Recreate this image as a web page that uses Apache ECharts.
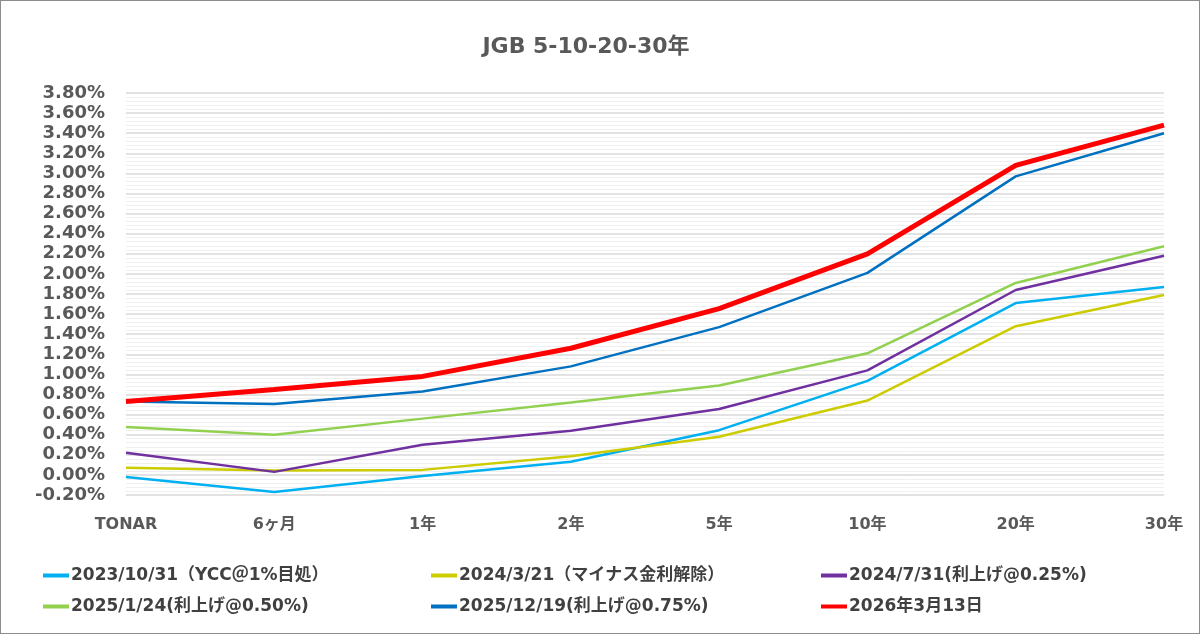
<!DOCTYPE html>
<html>
<head>
<meta charset="utf-8">
<title>JGB 5-10-20-30年</title>
<script src="https://cdn.jsdelivr.net/npm/echarts@6/dist/echarts.min.js"></script>
<style>
    html, body { margin: 0; padding: 0; background: #fff; }
    #chart { width: 1198px; height: 632px; border: 1px solid #8c8c8c; }
</style>
</head>
<body>
<div id="chart"></div>
<script>
// 年限
var tenors = ['TONAR', '6ヶ月', '1年', '2年', '5年', '10年', '20年', '30年'];

// 各日付の利回り (%)
var y20231031 = [-0.02, -0.17, -0.01, 0.13, 0.445, 0.935, 1.71, 1.87];
var y20240321 = [0.07, 0.045, 0.05, 0.185, 0.38, 0.74, 1.48, 1.79];
var y20240731 = [0.22, 0.03, 0.30, 0.44, 0.655, 1.04, 1.84, 2.18];
var y20250124 = [0.477, 0.40, 0.56, 0.72, 0.89, 1.21, 1.91, 2.275];
var y20251219 = [0.73, 0.705, 0.83, 1.08, 1.47, 2.01, 2.97, 3.40];
var y20260313 = [0.73, 0.85, 0.98, 1.26, 1.655, 2.20, 3.08, 3.48];

var names = [
    '2023/10/31（YCC＠1%目処）',
    '2024/3/21（マイナス金利解除）',
    '2024/7/31(利上げ@0.25%)',
    '2025/1/24(利上げ@0.50%)',
    '2025/12/19(利上げ@0.75%)',
    '2026年3月13日'
];
var colors = ['#00b0f0', '#cccc00', '#7030a0', '#92d050', '#0070c0', '#ff0000'];
var widths = [2.5, 2.5, 2.5, 2.5, 2.5, 5];
var values = [y20231031, y20240321, y20240731, y20250124, y20251219, y20260313];

var FONT = '"DejaVu Sans", "Noto Sans CJK JP", sans-serif';

var myChart = echarts.init(document.getElementById('chart'));

var series = values.map(function (v, i) {
    return {
        name: names[i],
        type: 'line',
        data: v,
        symbol: 'none',
        color: colors[i],
        lineStyle: { width: widths[i], color: colors[i] }
    };
});

function legendCol(left, idx) {
    return {
        orient: 'vertical',
        left: left,
        top: 561,
        itemGap: 14,
        itemWidth: 26,
        itemHeight: 4,
        icon: 'rect',
        data: idx.map(function (i) { return names[i]; }),
        textStyle: { fontFamily: FONT, fontSize: 17, fontWeight: 'bold', color: '#404040', padding: [0, 0, 0, -3] }
    };
}

var option = {
    animation: false,
    title: {
        text: 'JGB 5-10-20-30年',
        left: 580,
        textAlign: 'center',
        top: 30,
        textStyle: { fontFamily: FONT, fontSize: 22, fontWeight: 'bold', color: '#595959' }
    },
    legend: [
        legendCol(37, [0, 3]),
        legendCol(425, [1, 4]),
        legendCol(815, [2, 5])
    ],
    grid: { left: 125, right: 35, top: 92, bottom: 138, containLabel: false },
    xAxis: {
        type: 'category',
        data: tenors,
        boundaryGap: false,
        axisLine: { show: false },
        axisTick: { show: false },
        axisLabel: {
            margin: 22,
            fontFamily: FONT,
            fontSize: 16,
            fontWeight: 'bold',
            color: '#595959'
        }
    },
    yAxis: {
        type: 'value',
        min: -0.2,
        max: 3.8,
        interval: 0.2,
        axisLine: { show: false },
        axisTick: { show: false },
        axisLabel: {
            margin: 21,
            fontFamily: FONT,
            fontSize: 18,
            fontWeight: 'bold',
            color: '#595959',
            formatter: function (v) { return v.toFixed(2) + '%'; }
        },
        splitLine: { lineStyle: { color: '#d9d9d9', width: 1.5 } },
        minorTick: { show: false, splitNumber: 5 },
        minorSplitLine: { show: true, lineStyle: { color: '#efefef', width: 1 } }
    },
    series: series
};
option && myChart.setOption(option);
</script>
</body>
</html>
